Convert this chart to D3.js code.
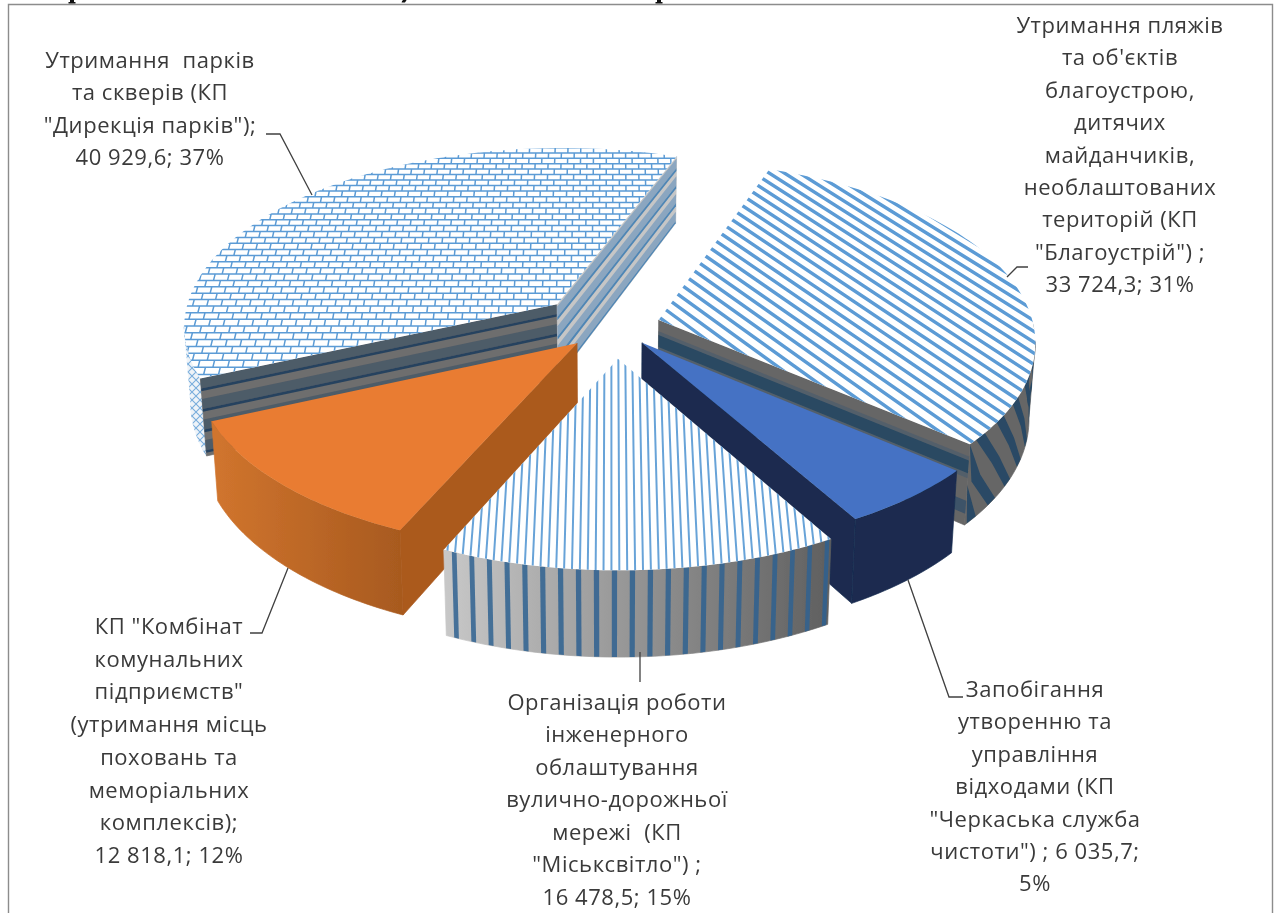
<!DOCTYPE html>
<html><head><meta charset="utf-8">
<script src="https://cdnjs.cloudflare.com/ajax/libs/d3/7.8.5/d3.min.js"></script>
<style>html,body{margin:0;padding:0;background:#fff}svg{display:block}text{font-family:"Open Sans",sans-serif;fill:#3a3a3a}</style>
</head><body>
<svg id="c" width="1278" height="913"></svg>
<script>
// ---- data, in clockwise order starting from the Благоустрій slice
const keys = ["blago","waste","street","orange","parks"];
const values = [33724.3, 6035.7, 16478.5, 12818.1, 40929.6];
const labelLines = [
  ["Утримання пляжів","та об'єктів","благоустрою,","дитячих","майданчиків,","необлаштованих","територій (КП","\"Благоустрій\") ;","33 724,3; 31%"],
  ["Запобігання","утворенню та","управління","відходами (КП","\"Черкаська служба","чистоти\") ; 6 035,7;","5%"],
  ["Організація роботи","інженерного","облаштування","вулично-дорожньої","мережі  (КП","\"Міськсвітло\") ;","16 478,5; 15%"],
  ["КП \"Комбінат","комунальних","підприємств\"","(утримання місць","поховань та","меморіальних","комплексів);","12 818,1; 12%"],
  ["Утримання  парків","та скверів (КП","\"Дирекція парків\");","40 929,6; 37%"]
];
const labelX = [1120, 1035, 617, 169, 150];
const labelY0 = [33, 697, 709.5, 634, 68];
const lineGap = [32.4, 32.4, 32.5, 32.7, 32.4];
const leaders = [
  [[1028,267],[1017,267],[1007,277]],
  [[963,697],[949,697],[908,580]],
  [[640,682],[640,652]],
  [[250,633],[262,633],[288,568]],
  [[266,134],[280,134],[312,195]]
];
// exploded distance of each slice, extra sideways nudge, draw order (back to front)
const explode = [0.132, 0.12, 0.18, 0.135, 0.18];
const nudgeX = [0, 0.005, 0.009, 0.006, -0.014];
const drawOrder = ["parks","blago","waste","orange","street"];

// ---- layout
const cx = 611, cy = 326, rx = 375, ry = 179, persp = 0.115, depth = 75, taper = 0.015;
const rad = d => d * Math.PI / 180;
const svg = d3.select("#c");
const BLUE = "#5b9bd5";

svg.append("path").attr("d","M8.5 913V4.5H1272.5V913").attr("fill","none").attr("stroke","#8c8c8c").attr("stroke-width",1.4);

// tails of the line of running text cut off above the figure
svg.append("path").attr("d","M70 0h4v2h1.5v1.4h-7v-1.4h1.5zM403 0h3.6l-1.6 2.6h-3.4l.4-1.4zM657 0h4v2h1.5v1.4h-7v-1.4h1.5z").attr("fill","#111");

const pie = d3.pie().sort(null).startAngle(rad(20)).endAngle(rad(380));
const arcs = pie(values).map((a,i)=>{
  const mid=(a.startAngle+a.endAngle)/2;
  return {...a,key:keys[i],ox:explode[i]*Math.sin(mid)+nudgeX[i],oy:-explode[i]*Math.cos(mid)};
});
const byKey = Object.fromEntries(arcs.map(a=>[a.key,a]));

function plane(X,Y,z=0){
  const w=1-persp*Y, s=1-taper*z;
  return [cx+rx*X/w*s, cy+ry*Y/w+depth*z/w];
}
const rimPt=(a,t,z=0)=>plane(a.ox+Math.sin(t),a.oy-Math.cos(t),z);
const apex=(a,z=0)=>plane(a.ox,a.oy,z);
const line=d3.line();
const closed=pts=>line(pts)+"Z";
const step=rad(1);
const rim=(a)=>d3.range(a.startAngle,a.endAngle,step).concat([a.endAngle]).map(t=>rimPt(a,t));

const defs=svg.append("defs");
defs.append("filter").attr("id","soft")
  .attr("filterUnits","userSpaceOnUse").attr("x",0).attr("y",0).attr("width",1278).attr("height",913)
  .append("feGaussianBlur").attr("stdDeviation",0.5);
const hatch=defs.append("pattern").attr("id","hatch").attr("patternUnits","userSpaceOnUse").attr("width",8).attr("height",8);
hatch.append("rect").attr("width",8).attr("height",8).attr("fill","#eef3f8");
hatch.append("path").attr("d","M0 0L8 8M8 0L0 8").attr("stroke",BLUE).attr("stroke-width",1.1).attr("opacity",.8);

const root=svg.append("g").attr("filter","url(#soft)");

function faceBands(g,a,t,bands,base){
  g.append("path").attr("d",closed([apex(a,0),rimPt(a,t,0),rimPt(a,t,1),apex(a,1)])).attr("fill",base).attr("stroke",base).attr("stroke-width",.7);
  g.selectAll(null).data(bands).enter().append("path")
   .attr("d",b=>closed([apex(a,b[0]),rimPt(a,t,b[0]),rimPt(a,t,b[1]),apex(a,b[1])])).attr("fill",b=>b[2]);
}
function frontAngles(a){
  const ts=d3.range(a.startAngle,a.endAngle,step).concat([a.endAngle]);
  return ts.filter((t,i)=>{
    const prev=ts[i-1], next=ts[i+1];
    return (next!==undefined&&rimPt(a,next)[0]<rimPt(a,t)[0])||(prev!==undefined&&rimPt(a,t)[0]<rimPt(a,prev)[0]);
  });
}
function arcWall(g,a,fill){
  const ts=frontAngles(a);
  g.append("path").attr("d",closed([...ts.map(t=>rimPt(a,t,0)),...ts.slice().reverse().map(t=>rimPt(a,t,1))])).attr("fill",fill).attr("stroke",fill).attr("stroke-width",.7);
}
function gradient(id,a,c0,c1){
  const ts=frontAngles(a), x0=rimPt(a,ts[ts.length-1])[0], x1=rimPt(a,ts[0])[0];
  const g=defs.append("linearGradient").attr("id",id).attr("gradientUnits","userSpaceOnUse").attr("x1",x0).attr("x2",x1).attr("y1",0).attr("y2",0);
  g.append("stop").attr("offset",0).attr("stop-color",c0);
  g.append("stop").attr("offset",1).attr("stop-color",c1);
  return "url(#"+id+")";
}
function clipTop(a){
  const id="clip-"+a.key;
  defs.append("clipPath").attr("id",id).append("path").attr("d",closed([apex(a),...rim(a)]));
  return "url(#"+id+")";
}
function topFace(g,a,fill){
  return g.append("path").attr("d",closed([apex(a),...rim(a)])).attr("fill",fill);
}

const repeats=(period,n,list)=>d3.range(n).flatMap(i=>list.map(b=>[i*period+b[0],i*period+b[1],b[2]])).filter(b=>b[0]<1).map(b=>[b[0],Math.min(1,b[1]),b[2]]);

const painters={
  parks(g,a){
    arcWall(g,a,"url(#hatch)");
    faceBands(g,a,a.startAngle,repeats(.265,4,[[0,.13,"#4e5b68"],[.13,.165,"#27435f"]]),"#6e6e6e");
    faceBands(g,a,a.endAngle,repeats(.265,4,[[.03,.17,"#8ba6c0"],[.17,.215,"#4f86b5"]]),"#c6c6c6");
    topFace(g,a,"#fff");
    const lines=g.append("g").attr("clip-path",clipTop(a));
    const dy=0.0375, dx=0.0385; let d="";
    const ys=d3.range(-1.5,0.8,dy);
    ys.forEach((y,i)=>{
      d+=line([plane(-1.4,y),plane(0.6,y)]);
      d3.range(-1.4+(i%2)*dx/2,0.6,dx).forEach(x=>{d+=line([plane(x,y),plane(x,y+dy)]);});
    });
    lines.append("path").attr("d",d).attr("fill","none").attr("stroke",BLUE).attr("stroke-width",1.5);
  },
  blago(g,a){
    arcWall(g,a,"#666666");
    const th=d3.range(a.endAngle+rad(8),rad(78),-rad(6));
    const clampT=t=>Math.max(rad(90),Math.min(a.endAngle,t));
    g.selectAll(null).data(th).enter().append("path").attr("fill","#2a4a65")
      .attr("d",t=>{const w=rad(2.4),sl=rad(11);
        return closed([rimPt(a,clampT(t),0),rimPt(a,clampT(t+w),0),rimPt(a,clampT(t+w-sl/2),.5),rimPt(a,clampT(t+w-sl),1),rimPt(a,clampT(t-sl),1),rimPt(a,clampT(t-sl/2),.5)]);});
    faceBands(g,a,a.endAngle,[[.15,.42,"#535f6b"],[.2,.36,"#2a4a62"],[.7,.86,"#3c5268"]],"#666666");
    topFace(g,a,"#fff");
    const lines=g.append("g").attr("clip-path",clipTop(a));
    const slope=1.6; let d="";
    d3.range(-4,4,0.072).forEach(c=>{d+=line([plane(-1.2,slope*-1.2+c),plane(1.4,slope*1.4+c)]);});
    lines.append("path").attr("d",d).attr("fill","none").attr("stroke",BLUE).attr("stroke-width",3.4);
  },
  waste(g,a){
    arcWall(g,a,"#1a2c50");
    faceBands(g,a,a.endAngle,[],"#1a2c50");
    topFace(g,a,"#4472c4");
  },
  orange(g,a){
    arcWall(g,a,gradient("gradOrange",a,"#d1752e","#a85a1f"));
    faceBands(g,a,a.startAngle,[],"#ab5a1f");
    topFace(g,a,"#e97c30");
  },
  street(g,a){
    arcWall(g,a,gradient("gradStreet",a,"#c8c8c8","#5f5f5f"));
    const dW=0.0415;
    const xs=d3.range(-1,1,dW).filter(x=>Math.abs(x)<1);
    const ts=xs.map(x=>Math.PI-Math.asin(x)).filter(t=>t>a.startAngle&&t<a.endAngle);
    g.selectAll(null).data(ts).enter().append("path").attr("fill","#2f6190").attr("opacity",.85)
      .attr("d",t=>{const u=t+rad(.7);return closed([rimPt(a,t,0),rimPt(a,u,0),rimPt(a,u,1),rimPt(a,t,1)]);});
    topFace(g,a,"#fff");
    const lines=g.append("g").attr("clip-path",clipTop(a));
    let d="";
    d3.range(-1,1,0.0182).forEach(x=>{d+=line([plane(x,-.5),plane(x,1.4)]);});
    lines.append("path").attr("d",d).attr("fill","none").attr("stroke",BLUE).attr("stroke-width",2).attr("opacity",.92);
  }
};
drawOrder.forEach(k=>{painters[k](root.append("g").attr("class","slice-"+k),byKey[k]);});

// leaders
svg.append("g").selectAll("path").data(leaders).enter().append("path")
  .attr("d",d=>line(d)).attr("fill","none").attr("stroke","#404040").attr("stroke-width",1.3);

// labels
const lab=svg.append("g").attr("text-anchor","middle").attr("font-size",22).attr("letter-spacing",0.55);
labelLines.forEach((ls,i)=>{
  lab.selectAll(null).data(ls).enter().append("text")
    .attr("x",labelX[i]).attr("y",(_,j)=>labelY0[i]+j*lineGap[i]).style("white-space","pre").text(d=>d);
});
</script>
</body></html>
